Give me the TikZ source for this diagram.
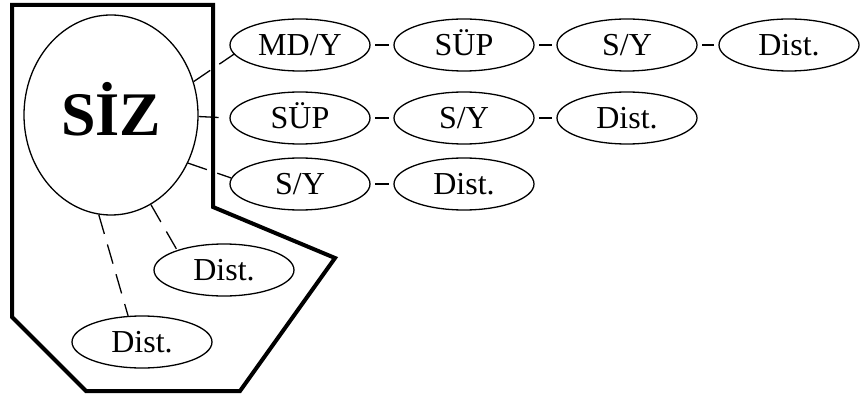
\documentclass[tikz,border=0pt]{standalone}
\usepackage{fontspec}
\setmainfont{Liberation Serif}
\usetikzlibrary{shapes.geometric}
\begin{document}
\begin{tikzpicture}[x=1pt,y=-1pt,
  bubble/.style={ellipse,draw,line width=1.3pt,minimum width=140pt,minimum height=52pt,
    inner sep=0pt,text height=21.5pt,text depth=0pt,font=\fontsize{32}{38}\selectfont},
  link/.style={line width=1.3pt,shorten <=4.5pt,shorten >=4.5pt},
  dlink/.style={line width=1.3pt,dash pattern=on 20pt off 11pt},
  frame/.style={line width=4pt,line join=miter}]
\useasboundingbox (0,0) rectangle (861,398);
% outer frame
\draw[frame] (12,5) -- (213,5) -- (213,207) -- (335,258) -- (240,391) -- (86,391) -- (12,317) -- cycle;
% central ellipse
\node[ellipse,draw,line width=1.3pt,minimum width=174pt,minimum height=200pt,inner sep=0pt,
  text height=41pt,text depth=0pt,
  font=\fontsize{62}{70}\selectfont\bfseries] (siz) at (111,115) {SİZ};
% first row
\node[bubble] (a1) at (300,45) {MD/Y};
\node[bubble] (a2) at (464,45) {SÜP};
\node[bubble] (a3) at (627,45) {S/Y};
\node[bubble] (a4) at (789,45) {Dist.};
% second row
\node[bubble] (b1) at (300,118) {SÜP};
\node[bubble] (b2) at (464,118) {S/Y};
\node[bubble] (b3) at (627,118) {Dist.};
% third row
\node[bubble] (c1) at (300,184) {S/Y};
\node[bubble] (c2) at (464,184) {Dist.};
% lower nodes
\node[bubble] (d1) at (224,270) {Dist.};
\node[bubble] (d2) at (142,342) {Dist.};
% chains
\draw[link] (a1) -- (a2);
\draw[link] (a2) -- (a3);
\draw[link] (a3) -- (a4);
\draw[link] (b1) -- (b2);
\draw[link] (b2) -- (b3);
\draw[link] (c1) -- (c2);
% dashed links from the centre
\draw[dlink] (siz.22) -- (a1.188);
\draw[dlink] (siz.-1) -- (b1.west);
\draw[dlink] (siz.-32) -- (c1.175);
\draw[dlink] (siz.-66) -- (d1.157);
\draw[dlink] (siz.-97) -- (d2.118);
\end{tikzpicture}
\end{document}
